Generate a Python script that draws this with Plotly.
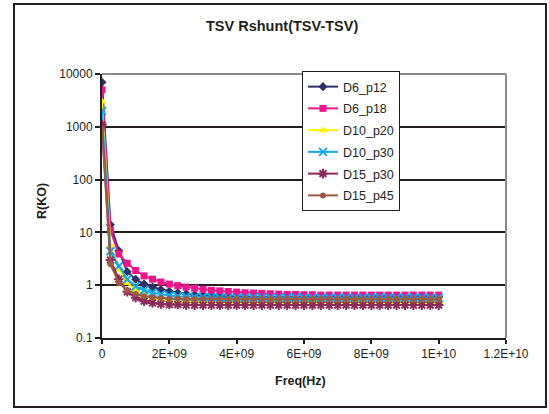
import plotly.graph_objects as go

freq = [0, 0.25e9, 0.5e9, 0.75e9, 1.0e9, 1.25e9, 1.5e9, 1.75e9, 2.0e9, 2.25e9,
        2.5e9, 2.75e9, 3.0e9, 3.25e9, 3.5e9, 3.75e9, 4.0e9, 4.25e9, 4.5e9, 4.75e9,
        5.0e9, 5.25e9, 5.5e9, 5.75e9, 6.0e9, 6.25e9, 6.5e9, 6.75e9, 7.0e9, 7.25e9,
        7.5e9, 7.75e9, 8.0e9, 8.25e9, 8.5e9, 8.75e9, 9.0e9, 9.25e9, 9.5e9, 9.75e9, 1.0e10]

d6_p12 = [7000, 14, 4.5, 1.8, 1.3, 1.05, 0.92, 0.83, 0.77, 0.72, 0.69, 0.66, 0.64, 0.63, 0.62,
          0.61, 0.61, 0.6, 0.6, 0.6, 0.6, 0.6, 0.6, 0.6, 0.6, 0.6, 0.6, 0.6, 0.6, 0.6,
          0.6, 0.6, 0.6, 0.6, 0.6, 0.6, 0.6, 0.6, 0.6, 0.6, 0.6]
d6_p18 = [5000, 11, 3.9, 2.6, 1.9, 1.5, 1.3, 1.15, 1.05, 0.98, 0.92, 0.88, 0.84, 0.8, 0.78,
          0.76, 0.74, 0.72, 0.71, 0.7, 0.69, 0.68, 0.67, 0.67, 0.66, 0.66, 0.65, 0.65, 0.65, 0.65,
          0.65, 0.65, 0.65, 0.65, 0.65, 0.65, 0.65, 0.65, 0.65, 0.65, 0.65]
d10_p20 = [3000, 5.7, 2.0, 1.1, 0.8, 0.65, 0.58, 0.54, 0.52, 0.5, 0.49, 0.49, 0.48, 0.48, 0.48,
           0.48, 0.48, 0.48, 0.48, 0.48, 0.48, 0.48, 0.48, 0.48, 0.48, 0.48, 0.48, 0.48, 0.48, 0.48,
           0.48, 0.48, 0.48, 0.48, 0.48, 0.48, 0.48, 0.48, 0.48, 0.48, 0.48]
d10_p30 = [2000, 4.4, 2.3, 1.3, 0.95, 0.8, 0.72, 0.67, 0.64, 0.62, 0.61, 0.6, 0.59, 0.59, 0.58,
           0.58, 0.58, 0.58, 0.58, 0.58, 0.58, 0.58, 0.58, 0.58, 0.58, 0.58, 0.58, 0.58, 0.58, 0.58,
           0.58, 0.58, 0.58, 0.58, 0.58, 0.58, 0.58, 0.58, 0.58, 0.58, 0.58]
d15_p30 = [1100, 3.0, 1.3, 0.75, 0.58, 0.5, 0.46, 0.44, 0.43, 0.43, 0.42, 0.42, 0.42, 0.42, 0.42,
           0.42, 0.42, 0.42, 0.42, 0.42, 0.42, 0.42, 0.42, 0.42, 0.42, 0.42, 0.42, 0.42, 0.42, 0.42,
           0.42, 0.42, 0.42, 0.42, 0.42, 0.42, 0.42, 0.42, 0.42, 0.42, 0.42]
d15_p45 = [900, 2.5, 1.1, 0.8, 0.68, 0.62, 0.59, 0.57, 0.56, 0.56, 0.55, 0.55, 0.55, 0.55, 0.55,
           0.55, 0.55, 0.55, 0.55, 0.55, 0.55, 0.55, 0.55, 0.55, 0.55, 0.55, 0.55, 0.55, 0.55, 0.55,
           0.55, 0.55, 0.55, 0.55, 0.55, 0.55, 0.55, 0.55, 0.55, 0.55, 0.55]

names = ["D6_p12", "D6_p18", "D10_p20", "D10_p30", "D15_p30", "D15_p45"]
series = [d6_p12, d6_p18, d10_p20, d10_p30, d15_p30, d15_p45]
colors = ["#2E3068", "#EC168C", "#FFF200", "#12A8E8", "#8B2B5C", "#9C5B44"]
symbols = ["diamond", "square", "triangle-up", "x-thin-open", "asterisk-open", "circle"]
sizes = [7, 7, 8, 8, 8, 6]

xtickvals = [0, 2e9, 4e9, 6e9, 8e9, 1e10, 1.2e10]
xticktext = ["0", "2E+09", "4E+09", "6E+09", "8E+09", "1E+10", "1.2E+10"]
ytickvals = [0.1, 1, 10, 100, 1000, 10000]
yticktext = ["0.1", "1", "10", "100", "1000", "10000"]

FONT = "Liberation Sans, Arial, sans-serif"
TXT = "#231F20"

fig = go.Figure()
for nm, ys, c, s, sz in zip(names, series, colors, symbols, sizes):
    fig.add_trace(go.Scatter(
        x=freq, y=ys, name=nm, mode="lines+markers", legendgroup=nm,
        line=dict(color=c, width=2),
        marker=dict(symbol=s, size=sz, color=c, line=dict(color=c, width=2 if "open" in s else 0)),
    ))

L, R, T, B = 102, 43, 74, 76
W, H = 549, 414
pw, ph = W - L - R, H - T - B

def px(x):
    return (x - L) / pw

def py(y):
    return (H - B - y) / ph

fig.update_layout(
    width=W, height=H,
    margin=dict(l=L, r=R, t=T, b=B),
    paper_bgcolor="white", plot_bgcolor="white",
    font=dict(family=FONT, size=12, color=TXT),
    showlegend=True,
    legend=dict(
        x=px(302), y=py(71), xanchor="left", yanchor="top",
        bgcolor="white", bordercolor=TXT, borderwidth=1,
        font=dict(family=FONT, size=12.5, color=TXT),
        itemwidth=30, tracegroupgap=2.5, traceorder="grouped",
    ),
    xaxis=dict(
        range=[0, 1.2e10], tickvals=xtickvals, ticktext=xticktext,
        showgrid=False, zeroline=False, showline=True, linecolor=TXT, linewidth=2,
        ticks="outside", ticklen=4, tickwidth=2, tickcolor=TXT,
        tickfont=dict(family=FONT, size=12, color=TXT),
    ),
    yaxis=dict(
        type="log", range=[-1, 4], tickvals=ytickvals, ticktext=yticktext,
        showgrid=True, gridcolor=TXT, gridwidth=2, zeroline=False,
        showline=True, linecolor=TXT, linewidth=2,
        ticks="outside", ticklen=5, tickwidth=2, tickcolor=TXT,
        tickfont=dict(family=FONT, size=12, color=TXT),
    ),
    annotations=[
        dict(text="<b>TSV Rshunt(TSV-TSV)</b>", xref="paper", yref="paper",
             x=px(282), y=py(26), xanchor="center", yanchor="middle", showarrow=False,
             font=dict(family=FONT, size=14.5, color=TXT)),
        dict(text="<b>Freq(Hz)</b>", xref="paper", yref="paper",
             x=px(300), y=py(381), xanchor="center", yanchor="middle", showarrow=False,
             font=dict(family=FONT, size=12.5, color=TXT)),
        dict(text="<b>R(KO)</b>", xref="paper", yref="paper", textangle=-90,
             x=px(42), y=py(201), xanchor="center", yanchor="middle", showarrow=False,
             font=dict(family=FONT, size=12.5, color=TXT)),
    ],
    shapes=[
        dict(type="line", xref="paper", yref="paper", x0=0, x1=1, y0=1, y1=1,
             line=dict(color="#8C8C8C", width=2), layer="above"),
        dict(type="line", xref="paper", yref="paper", x0=1, x1=1, y0=0, y1=1,
             line=dict(color="#8C8C8C", width=2), layer="above"),
        dict(type="rect", xref="paper", yref="paper",
             x0=px(14), x1=px(546), y0=py(407), y1=py(4),
             line=dict(color=TXT, width=2), fillcolor="rgba(0,0,0,0)", layer="above"),
    ],
)

fig.write_html("out.html")
